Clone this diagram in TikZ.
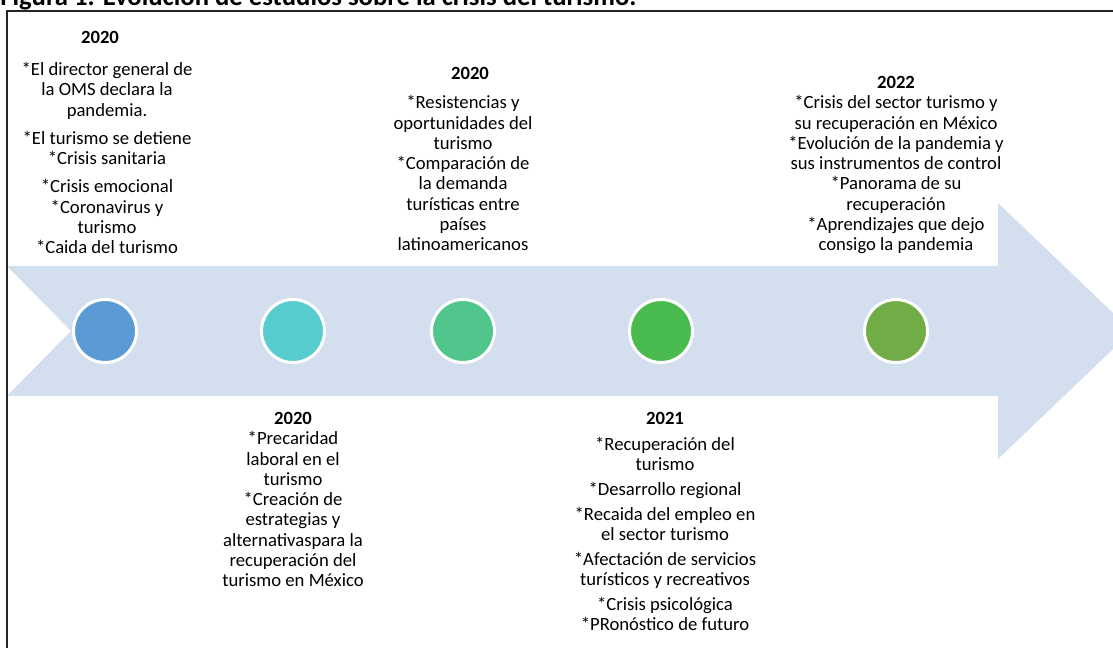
\documentclass[tikz,border=0pt]{standalone}
\usepackage{fontspec}
\setmainfont{Carlito}
\usepackage{tikz}
\usetikzlibrary{positioning}
\definecolor{banda}{RGB}{211,222,239}
\definecolor{azul}{RGB}{91,155,213}
\definecolor{turquesa}{RGB}{86,204,206}
\definecolor{verdeagua}{RGB}{80,198,141}
\definecolor{verde}{RGB}{73,187,78}
\definecolor{oliva}{RGB}{112,173,71}
\tikzset{hito node/.style={circle,draw=white,line width=2.25pt,minimum size=47.25pt,inner sep=0pt},}

\begin{document}
\begin{tikzpicture}[x=0.75pt, y=-0.75pt,
    nota node/.style={align=center, inner sep=0pt, font=\fontsize{14}{15.2}\selectfont,
      execute at begin node=\strut, execute at end node=\strut}]
	\useasboundingbox (0,0) rectangle (1113,648);
	\clip (0,0) rectangle (1113,648);
	% titulo
	\node[anchor=base west, inner sep=0pt, font=\fontsize{20}{24}\selectfont\bfseries] (titulo) at (0,6) {Figura 1. Evolución de estudios sobre la crisis del turismo.};
	% flecha
	\fill[banda] (7,266) -- (998,266) -- (998,203) -- (1132,331) -- (998,459) -- (998,396) -- (7,396) -- (71,331) -- cycle;
	% hitos
	\node[hito node, fill=azul] (a) at (105,331) {};
	\node[hito node, fill=turquesa] (b) at (293,331) {};
	\node[hito node, fill=verdeagua] (c) at (463,331) {};
	\node[hito node, fill=verde] (d) at (661,331) {};
	\node[hito node, fill=oliva] (e) at (896,331) {};
	% textos
	\node[nota node, above=28.5pt of a, xshift=1.5pt] (ta) {\textbf{2020}\hspace*{10.5pt}\\[9pt] *El director general de\\ la OMS declara la\\ pandemia.\\[6pt] *El turismo se detiene\\ *Crisis sanitaria\\[6pt] *Crisis emocional\\ *Coronavirus y\\ turismo\\ *Caida del turismo};
	\node[nota node, below=36pt of b] (tb) {\textbf{2020}\\ *Precaridad\\ laboral en el\\ turismo\\ *Creación de\\ estrategias y\\ alternativaspara la\\ recuperación del\\ turismo en México};
	\node[nota node, above=30.75pt of c] (tc) {\hspace*{10.5pt}\textbf{2020}\\[7pt] *Resistencias y\\ oportunidades del\\ turismo\\ *Comparación de\\ la demanda\\ turísticas entre\\ países\\ latinoamericanos};
	\node[nota node, below=36pt of d, xshift=3pt] (td) {\textbf{2021}\\[4pt] *Recuperación del\\ turismo\\[3.5pt] *Desarrollo regional\\[3.5pt] *Recaida del empleo en\\ el sector turismo\\[3.5pt] *Afectación de servicios\\ turísticos y recreativos\\[3.5pt] *Crisis psicológica\\ *PRonóstico de futuro};
	\node[nota node, above=30.75pt of e] (te) {\textbf{2022}\\ *Crisis del sector turismo y\\ su recuperación en México\\ *Evolución de la pandemia y\\ sus instrumentos de control\\ *Panorama de su\\ recuperación\\ *Aprendizajes que dejo\\ consigo la pandemia};
	% marco
	\draw[line width=1.5pt, black!85] (7,11) rectangle (1135,665);
\end{tikzpicture}
\end{document}
